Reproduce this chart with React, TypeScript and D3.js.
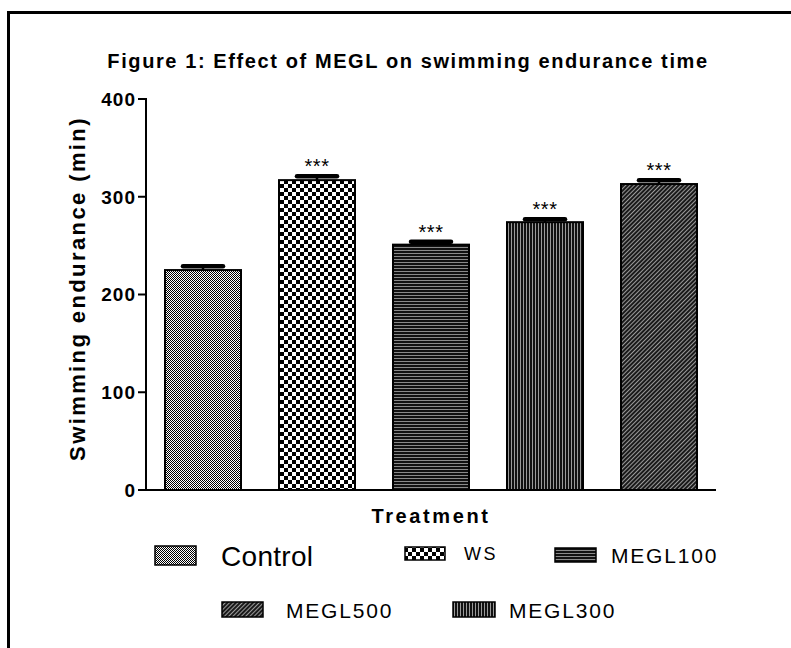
import React from "react";
import * as d3 from "d3";

const categories = ["Control", "WS", "MEGL100", "MEGL300", "MEGL500"];
const means = [225, 317, 251, 274, 313];
const sems = [4, 4, 3, 3, 4];
const significance = ["", "***", "***", "***", "***"];
const yTicks = [0, 100, 200, 300, 400];
const patternIds = ["pControl", "pWS", "pMEGL100", "pMEGL300", "pMEGL500"];
const legendRow1 = ["Control", "WS", "MEGL100"];
const legendRow2 = ["MEGL500", "MEGL300"];

const W = 791;
const H = 648;
const X0 = 146;
const X1 = 716;
const Y0 = 490;
const Y1 = 99;

export default function App() {
  const x = d3.scaleBand<string>().domain(categories).range([X0, X1]).paddingInner(1 / 3).paddingOuter(1 / 6);
  const y = d3.scaleLinear().domain([0, 400]).range([Y0, Y1]);
  const font = "Arial, 'Liberation Sans', Helvetica, sans-serif";
  const pid = (c: string) => patternIds[categories.indexOf(c)];

  const legendItems1 = [
    { name: legendRow1[0], sx: 155, sy: 546, sw: 41, sh: 19, tx: 221, ty: 566, fs: 28, ls: 0.3 },
    { name: legendRow1[1], sx: 405, sy: 547, sw: 40, sh: 13, tx: 464, ty: 560, fs: 18, ls: 2.5 },
    { name: legendRow1[2], sx: 555, sy: 548, sw: 41, sh: 14, tx: 611, ty: 563, fs: 21, ls: 1.8 },
  ];
  const legendItems2 = [
    { name: legendRow2[0], sx: 222, sy: 602, sw: 41, sh: 15, tx: 286, ty: 618, fs: 21, ls: 1.8 },
    { name: legendRow2[1], sx: 453, sy: 602, sw: 42, sh: 15, tx: 509, ty: 618, fs: 21, ls: 1.8 },
  ];

  const ctrlPix: [number, number][] = [];
  for (let i = 0; i < 4; i++) for (let j = 0; j < 4; j++) if ((i + j) % 2 === 0) ctrlPix.push([i, j]);

  return (
    <div style={{ position: "absolute", left: 0, top: 0 }}>
      <svg width={W} height={H} style={{ display: "block", background: "#fff" }}>
        <defs>
          <pattern id="pControl" width={4} height={4} patternUnits="userSpaceOnUse">
            <rect width={4} height={4} fill="#fff" />
            {ctrlPix.map(([i, j]) => (
              <rect key={`${i}-${j}`} x={i} y={j} width={1} height={1} fill="#000" shapeRendering="crispEdges" />
            ))}
          </pattern>
          <pattern id="pWS" width={8} height={8} patternUnits="userSpaceOnUse">
            <rect width={8} height={8} fill="#fff" />
            <rect x={0} y={0} width={4} height={4} fill="#000" />
            <rect x={4} y={4} width={4} height={4} fill="#000" />
          </pattern>
          <pattern id="pMEGL100" width={3} height={3} patternUnits="userSpaceOnUse">
            <rect width={3} height={3} fill="#111" />
            <rect x={0} y={1} width={3} height={1} fill="#8a8a8a" />
          </pattern>
          <pattern id="pMEGL300" width={3} height={3} patternUnits="userSpaceOnUse">
            <rect width={3} height={3} fill="#111" />
            <rect x={1} y={0} width={1} height={3} fill="#9a9a9a" />
          </pattern>
          <pattern id="pMEGL500" width={3} height={3} patternUnits="userSpaceOnUse" patternTransform="rotate(45)">
            <rect width={3} height={3} fill="#1a1a1a" />
            <rect x={0} y={0} width={1} height={3} fill="#9a9a9a" />
          </pattern>
        </defs>

        <rect x={8.5} y={12.5} width={900} height={800} fill="none" stroke="#000" strokeWidth={3} />

        <text x={408} y={68} textAnchor="middle" fontFamily={font} fontWeight="bold" fontSize={20} letterSpacing={1.6}>
          Figure 1: Effect of MEGL on swimming endurance time
        </text>

        {/* bars */}
        {categories.map((c, i) => {
          const bx = x(c) as number;
          const bw = x.bandwidth();
          const cx = bx + bw / 2;
          const top = y(means[i]);
          const et = y(means[i] + sems[i]);
          return (
            <g key={c}>
              <rect x={bx} y={top} width={bw} height={Y0 - top} fill={`url(#${patternIds[i]})`} stroke="#000" strokeWidth={2} />
              <line x1={cx} x2={cx} y1={top} y2={et} stroke="#000" strokeWidth={2.5} />
              <line x1={cx - 20} x2={cx + 20} y1={et} y2={et} stroke="#000" strokeWidth={4.5} strokeLinecap="round" />
              {significance[i] && (
                <text x={cx} y={et - 3} textAnchor="middle" fontFamily={font} fontSize={20} letterSpacing={0.5}>
                  {significance[i]}
                </text>
              )}
            </g>
          );
        })}

        {/* axes */}
        <line x1={X0} x2={X0} y1={Y1 - 1} y2={Y0 + 1} stroke="#000" strokeWidth={2} />
        <line x1={X0 - 1} x2={X1} y1={Y0} y2={Y0} stroke="#000" strokeWidth={2} />
        {yTicks.map((t) => (
          <g key={t}>
            <line x1={X0 - 8} x2={X0} y1={y(t)} y2={y(t)} stroke="#000" strokeWidth={2} />
            <text x={X0 - 10} y={y(t)} dy="0.36em" textAnchor="end" fontFamily={font} fontWeight="bold" fontSize={19} letterSpacing={1}>
              {t}
            </text>
          </g>
        ))}

        <text
          transform={`translate(85, ${(Y0 + Y1) / 2 - 6}) rotate(-90)`}
          textAnchor="middle"
          fontFamily={font}
          fontWeight="bold"
          fontSize={22}
          letterSpacing={2.4}
        >
          Swimming endurance (min)
        </text>

        <text x={431} y={523} textAnchor="middle" fontFamily={font} fontWeight="bold" fontSize={20} letterSpacing={2.6}>
          Treatment
        </text>

        {/* legend */}
        {[...legendItems1, ...legendItems2].map((it) => (
          <g key={it.name}>
            <rect x={it.sx} y={it.sy} width={it.sw} height={it.sh} fill={`url(#${pid(it.name)})`} stroke="#000" strokeWidth={1.5} />
            <text x={it.tx} y={it.ty} fontFamily={font} fontSize={it.fs} letterSpacing={it.ls}>
              {it.name}
            </text>
          </g>
        ))}
      </svg>
    </div>
  );
}
